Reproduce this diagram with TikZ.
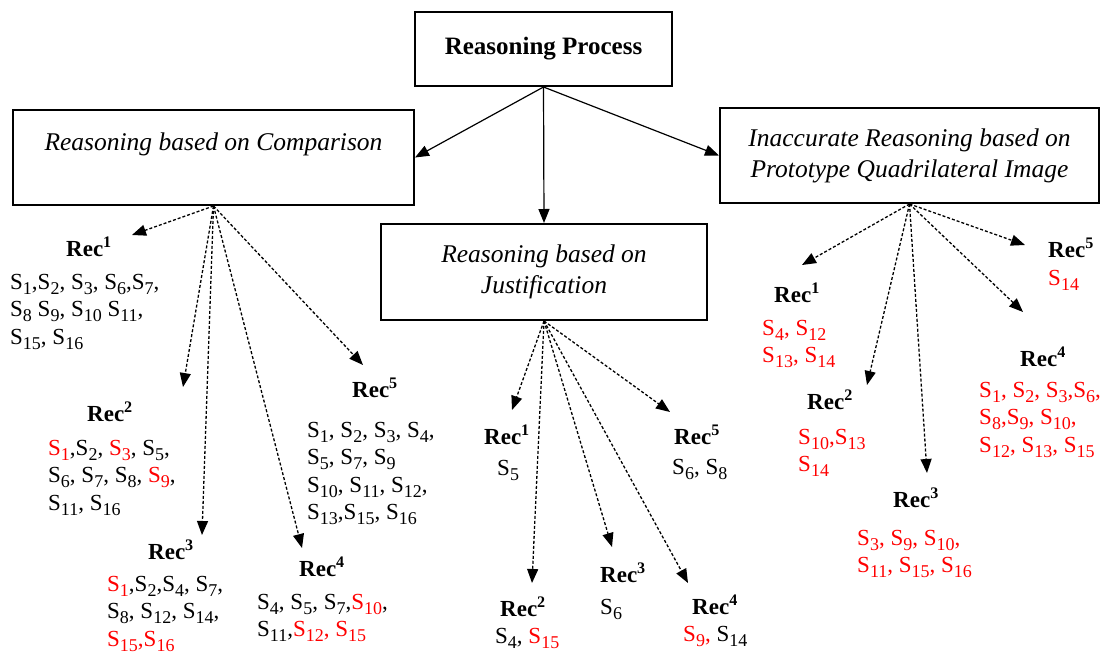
\documentclass[tikz,border=0pt]{standalone}
\usepackage{fontspec}
\setmainfont{Liberation Serif}
\usetikzlibrary{arrows.meta}
\newcommand\Sb[1]{S\raisebox{-0.2em}{\fontsize{18}{18}\selectfont #1}}
\newcommand\Rd[1]{\textcolor{red}{#1}}
\newcommand\RecL[1]{\textbf{Rec\textsuperscript{#1}}}
\begin{document}
\begin{tikzpicture}[x=1pt,y=-1pt,
  box/.style={draw, line width=2pt, align=center, inner sep=0pt, font=\fontsize{25.5}{31}\selectfont\itshape},
  rec/.style={inner sep=0pt, font=\fontsize{23}{27}\selectfont},
  lst/.style={inner sep=0pt, anchor=north west, align=left, font=\fontsize{23}{27.5}\selectfont},
  solidarrow/.style={line width=1.2pt, -{Triangle[length=14pt,width=11pt]}},
  dasharrow/.style={line width=1.3pt, dash pattern=on 3pt off 2pt, -{Triangle[length=14pt,width=11pt]}},
]
\useasboundingbox (0,0) rectangle (1115,656);
% boxes
\node[box, font=\fontsize{25}{30}\selectfont\bfseries, minimum width=257pt, minimum height=74pt] (top) at (543.5,49) {Reasoning Process};
\node[box, minimum width=401pt, minimum height=95pt] (cmp) at (213.5,157.5) {Reasoning based on Comparison\\ \mbox{}};
\node[box, minimum width=379pt, minimum height=95pt] (inacc) at (909.5,155.5) {Inaccurate Reasoning based on\\Prototype Quadrilateral Image};
\node[box, minimum width=326pt, minimum height=96pt] (mid) at (544,272) {Reasoning based on\\Justification};
\draw[solidarrow] (top.south) -- (cmp.east);
\draw[solidarrow] (top.south) -- (mid.north);
\draw[solidarrow] (top.south) -- (inacc.west);
% left group
\node[rec] (l1) at (89,247) {\RecL{1}};
\node[lst] (l1s) at (10,274) {\Sb{1},\Sb{2}, \Sb{3}, \Sb{6},\Sb{7},\\ \Sb{8} \Sb{9}, \Sb{10} \Sb{11},\\ \Sb{15}, \Sb{16}};
\node[rec] (l2) at (110,412) {\RecL{2}};
\node[lst] (l2s) at (48,440) {\Rd{\Sb{1}},\Sb{2}, \Rd{\Sb{3}}, \Sb{5},\\ \Sb{6}, \Sb{7}, \Sb{8}, \Rd{\Sb{9}},\\ \Sb{11}, \Sb{16}};
\node[rec] (l3) at (171,550) {\RecL{3}};
\node[lst] (l3s) at (107,576) {\Rd{\Sb{1}},\Sb{2},\Sb{4}, \Sb{7},\\ \Sb{8}, \Sb{12}, \Sb{14},\\ \Rd{\Sb{15},\Sb{16}}};
\node[rec] (l4) at (322,567) {\RecL{4}};
\node[lst] (l4s) at (257,594) {\Sb{4}, \Sb{5}, \Sb{7},\Rd{\Sb{10}},\\ \Sb{11},\Rd{\Sb{12}, \Sb{15}}};
\node[rec] (l5) at (375,388) {\RecL{5}};
\node[lst] (l5s) at (307,422) {\Sb{1}, \Sb{2}, \Sb{3}, \Sb{4},\\ \Sb{5}, \Sb{7}, \Sb{9}\\ \Sb{10}, \Sb{11}, \Sb{12},\\ \Sb{13},\Sb{15}, \Sb{16}};
\coordinate (tl1) at (132,235);
\coordinate (tl2) at (183,387);
\coordinate (tl3) at (202,535);
\coordinate (tl4) at (302,548);
\coordinate (tl5) at (363,365);
\foreach \t in {tl1,tl2,tl3,tl4,tl5} \draw[dasharrow] (cmp.south) -- (\t);
% middle group
\node[rec] (m1) at (507,435) {\RecL{1}};
\node[lst] (m1s) at (497,460) {\Sb{5}};
\node[rec] (m2) at (523,607) {\RecL{2}};
\node[lst] (m2s) at (495,628) {\Sb{4}, \Rd{\Sb{15}}};
\node[rec] (m3) at (623,573) {\RecL{3}};
\node[lst] (m3s) at (600,599) {\Sb{6}};
\node[rec] (m4) at (715,605) {\RecL{4}};
\node[lst] (m4s) at (683,626) {\Rd{\Sb{9},} \Sb{14}};
\node[rec] (m5) at (697,435) {\RecL{5}};
\node[lst] (m5s) at (672,459) {\Sb{6}, \Sb{8}};
\coordinate (tm1) at (512,410);
\coordinate (tm2) at (532,583);
\coordinate (tm3) at (612,547);
\coordinate (tm4) at (688,583);
\coordinate (tm5) at (670,412);
\foreach \t in {tm1,tm2,tm3,tm4,tm5} \draw[dasharrow] (mid.south) -- (\t);
% right group
\node[rec] (r1) at (797,293) {\RecL{1}};
\node[lst, text=red] (r1s) at (762,320) {\Sb{4}, \Sb{12}\\ \Sb{13}, \Sb{14}};
\node[rec] (r2) at (830,400) {\RecL{2}};
\node[lst, text=red] (r2s) at (798,429) {\Sb{10},\Sb{13}\\ \Sb{14}};
\node[rec] (r3) at (916,498) {\RecL{3}};
\node[lst, text=red] (r3s) at (857,530) {\Sb{3}, \Sb{9}, \Sb{10},\\ \Sb{11}, \Sb{15}, \Sb{16}};
\node[rec] (r4) at (1043,357) {\RecL{4}};
\node[lst, text=red] (r4s) at (979,382) {\Sb{1}, \Sb{2}, \Sb{3},\Sb{6},\\ \Sb{8},\Sb{9}, \Sb{10},\\ \Sb{12}, \Sb{13}, \Sb{15}};
\node[rec] (r5) at (1071,248) {\RecL{5}};
\node[lst, text=red] (r5s) at (1048,270) {\Sb{14}};
\coordinate (tr1) at (802,265);
\coordinate (tr2) at (867,385);
\coordinate (tr3) at (927,473);
\coordinate (tr4) at (1023,312);
\coordinate (tr5) at (1025,245);
\foreach \t in {tr1,tr2,tr3,tr4,tr5} \draw[dasharrow] (inacc.south) -- (\t);
\end{tikzpicture}
\end{document}
